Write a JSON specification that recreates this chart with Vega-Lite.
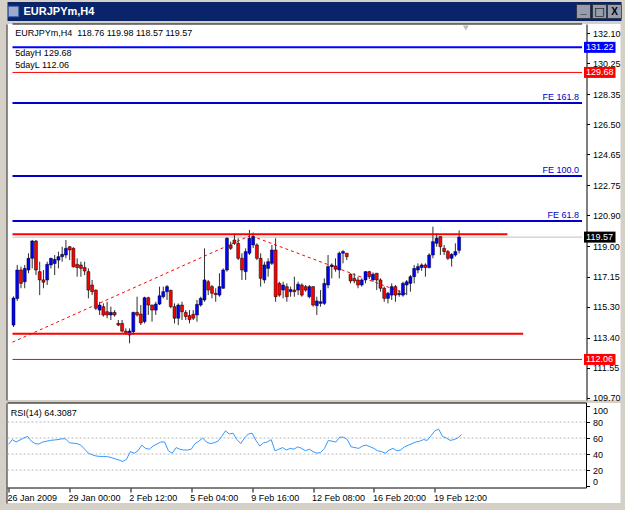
{
  "$schema": "https://vega.github.io/schema/vega-lite/v6.json",
  "background": "#D4D0C8",
  "padding": {"left": 5.5, "top": 2, "right": 4, "bottom": 7},
  "spacing": 3,
  "bounds": "flush",
  "config": {
    "view": {"stroke": null},
    "axis": {"labelFont": "Liberation Sans", "labelFontSize": 9, "labelColor": "#000000", "tickColor": "#000000", "domainColor": "#000000", "grid": false, "title": null},
    "text": {"font": "Liberation Sans", "fontSize": 9}
  },
  "datasets": {
    "candles": [
      {"i":0,"o":114.17,"h":115.93,"l":114.05,"c":115.83,"rsi":52},
      {"i":1,"o":115.80,"h":117.86,"l":115.65,"c":117.55,"rsi":58},
      {"i":2,"o":117.55,"h":117.76,"l":116.43,"c":116.73,"rsi":55},
      {"i":3,"o":116.83,"h":117.86,"l":116.43,"c":117.65,"rsi":57.5},
      {"i":4,"o":117.55,"h":118.58,"l":117.35,"c":118.27,"rsi":60},
      {"i":5,"o":118.27,"h":119.40,"l":117.65,"c":119.33,"rsi":62},
      {"i":6,"o":119.33,"h":119.39,"l":117.24,"c":117.55,"rsi":56},
      {"i":7,"o":117.45,"h":118.06,"l":116.01,"c":116.94,"rsi":53},
      {"i":8,"o":116.94,"h":117.55,"l":116.43,"c":116.80,"rsi":52.5},
      {"i":9,"o":116.94,"h":118.06,"l":116.63,"c":117.90,"rsi":55},
      {"i":10,"o":117.86,"h":118.30,"l":117.65,"c":118.27,"rsi":56},
      {"i":11,"o":117.95,"h":118.47,"l":117.24,"c":118.20,"rsi":57},
      {"i":12,"o":118.16,"h":118.68,"l":117.65,"c":118.37,"rsi":57.5},
      {"i":13,"o":118.37,"h":118.98,"l":118.06,"c":118.51,"rsi":58},
      {"i":14,"o":118.47,"h":119.39,"l":118.27,"c":118.88,"rsi":59},
      {"i":15,"o":118.98,"h":119.02,"l":118.16,"c":118.78,"rsi":59},
      {"i":16,"o":118.88,"h":118.95,"l":117.70,"c":117.75,"rsi":54},
      {"i":17,"o":117.90,"h":118.27,"l":117.14,"c":117.70,"rsi":53.5},
      {"i":18,"o":117.86,"h":118.06,"l":117.14,"c":117.65,"rsi":53},
      {"i":19,"o":117.70,"h":118.06,"l":117.24,"c":117.49,"rsi":51},
      {"i":20,"o":117.45,"h":117.65,"l":115.81,"c":116.32,"rsi":46},
      {"i":21,"o":116.63,"h":116.94,"l":116.01,"c":116.22,"rsi":41},
      {"i":22,"o":116.32,"h":116.35,"l":115.09,"c":115.20,"rsi":39},
      {"i":23,"o":115.09,"h":115.60,"l":114.79,"c":115.40,"rsi":37.5},
      {"i":24,"o":115.30,"h":115.50,"l":114.69,"c":114.79,"rsi":37},
      {"i":25,"o":114.99,"h":115.60,"l":114.59,"c":114.79,"rsi":36.8},
      {"i":26,"o":114.79,"h":115.30,"l":114.48,"c":114.95,"rsi":36.7},
      {"i":27,"o":114.95,"h":115.09,"l":114.69,"c":114.79,"rsi":35.5},
      {"i":28,"o":114.27,"h":114.48,"l":114.10,"c":114.17,"rsi":34},
      {"i":29,"o":114.27,"h":114.48,"l":113.72,"c":113.80,"rsi":32.5},
      {"i":30,"o":113.80,"h":113.97,"l":113.56,"c":113.66,"rsi":30.6},
      {"i":31,"o":113.56,"h":113.97,"l":113.05,"c":113.80,"rsi":33.4},
      {"i":32,"o":113.76,"h":114.99,"l":113.56,"c":114.95,"rsi":43},
      {"i":33,"o":114.95,"h":115.91,"l":114.69,"c":114.79,"rsi":41},
      {"i":34,"o":114.85,"h":115.40,"l":114.17,"c":114.30,"rsi":44},
      {"i":35,"o":114.38,"h":115.91,"l":114.27,"c":115.85,"rsi":51},
      {"i":36,"o":115.85,"h":115.91,"l":114.79,"c":115.40,"rsi":47},
      {"i":37,"o":115.40,"h":115.42,"l":114.38,"c":115.09,"rsi":46},
      {"i":38,"o":115.09,"h":115.60,"l":114.79,"c":115.46,"rsi":50},
      {"i":39,"o":115.46,"h":116.53,"l":115.40,"c":115.97,"rsi":52.5},
      {"i":40,"o":115.91,"h":116.53,"l":115.81,"c":116.22,"rsi":55},
      {"i":41,"o":116.22,"h":116.63,"l":115.71,"c":116.53,"rsi":55},
      {"i":42,"o":116.30,"h":116.35,"l":115.20,"c":115.30,"rsi":44},
      {"i":43,"o":115.30,"h":115.50,"l":114.27,"c":114.59,"rsi":41},
      {"i":44,"o":114.59,"h":115.50,"l":114.17,"c":115.40,"rsi":48},
      {"i":45,"o":115.40,"h":115.60,"l":114.48,"c":114.99,"rsi":46},
      {"i":46,"o":114.95,"h":115.09,"l":114.48,"c":114.69,"rsi":45},
      {"i":47,"o":114.75,"h":115.09,"l":114.27,"c":114.50,"rsi":45},
      {"i":48,"o":114.83,"h":115.09,"l":114.48,"c":114.59,"rsi":46},
      {"i":49,"o":114.79,"h":115.71,"l":114.38,"c":115.44,"rsi":53},
      {"i":50,"o":115.40,"h":115.91,"l":115.30,"c":115.81,"rsi":56},
      {"i":51,"o":115.71,"h":118.88,"l":115.60,"c":116.94,"rsi":60},
      {"i":52,"o":116.83,"h":116.94,"l":116.01,"c":116.32,"rsi":55},
      {"i":53,"o":116.53,"h":116.63,"l":115.81,"c":116.12,"rsi":53},
      {"i":54,"o":116.12,"h":116.43,"l":115.60,"c":116.04,"rsi":54},
      {"i":55,"o":116.01,"h":117.35,"l":115.91,"c":116.53,"rsi":56},
      {"i":56,"o":116.43,"h":117.65,"l":116.40,"c":117.55,"rsi":62},
      {"i":57,"o":117.55,"h":119.55,"l":117.45,"c":119.50,"rsi":69},
      {"i":58,"o":119.09,"h":119.29,"l":118.78,"c":118.88,"rsi":65},
      {"i":59,"o":119.39,"h":119.80,"l":119.09,"c":119.19,"rsi":66},
      {"i":60,"o":119.19,"h":119.50,"l":118.16,"c":118.27,"rsi":58},
      {"i":61,"o":118.27,"h":118.58,"l":116.94,"c":117.55,"rsi":53},
      {"i":62,"o":117.45,"h":118.88,"l":116.94,"c":118.68,"rsi":60},
      {"i":63,"o":118.58,"h":120.01,"l":118.47,"c":119.50,"rsi":65},
      {"i":64,"o":119.09,"h":119.85,"l":118.90,"c":119.60,"rsi":66},
      {"i":65,"o":119.09,"h":119.19,"l":118.16,"c":118.27,"rsi":57},
      {"i":66,"o":118.27,"h":118.58,"l":116.53,"c":117.04,"rsi":50},
      {"i":67,"o":116.94,"h":118.06,"l":116.73,"c":117.86,"rsi":54},
      {"i":68,"o":117.65,"h":118.27,"l":117.14,"c":118.06,"rsi":55},
      {"i":69,"o":117.96,"h":119.09,"l":117.86,"c":118.78,"rsi":58},
      {"i":70,"o":118.78,"h":119.50,"l":115.60,"c":115.91,"rsi":44},
      {"i":71,"o":116.73,"h":116.83,"l":115.91,"c":116.01,"rsi":46},
      {"i":72,"o":116.32,"h":116.83,"l":115.81,"c":116.63,"rsi":48},
      {"i":73,"o":116.53,"h":116.73,"l":115.60,"c":115.91,"rsi":45},
      {"i":74,"o":116.22,"h":116.53,"l":115.91,"c":116.35,"rsi":47},
      {"i":75,"o":116.32,"h":117.14,"l":115.91,"c":116.22,"rsi":46},
      {"i":76,"o":116.32,"h":116.83,"l":116.01,"c":116.68,"rsi":49},
      {"i":77,"o":116.63,"h":116.73,"l":115.91,"c":116.01,"rsi":47},
      {"i":78,"o":116.53,"h":116.63,"l":116.22,"c":116.32,"rsi":44},
      {"i":79,"o":115.91,"h":116.63,"l":115.81,"c":116.53,"rsi":46},
      {"i":80,"o":116.53,"h":116.55,"l":115.30,"c":115.40,"rsi":43},
      {"i":81,"o":115.36,"h":115.91,"l":114.79,"c":115.65,"rsi":41},
      {"i":82,"o":115.50,"h":116.32,"l":115.30,"c":115.60,"rsi":42},
      {"i":83,"o":115.50,"h":117.04,"l":115.40,"c":116.73,"rsi":47},
      {"i":84,"o":116.63,"h":118.47,"l":116.43,"c":117.76,"rsi":57},
      {"i":85,"o":117.76,"h":117.96,"l":117.04,"c":117.86,"rsi":56},
      {"i":86,"o":117.80,"h":118.27,"l":117.45,"c":117.60,"rsi":55},
      {"i":87,"o":117.55,"h":118.68,"l":117.04,"c":118.58,"rsi":61},
      {"i":88,"o":118.58,"h":118.78,"l":117.96,"c":118.68,"rsi":61},
      {"i":89,"o":118.58,"h":118.60,"l":118.16,"c":118.37,"rsi":58},
      {"i":90,"o":117.29,"h":117.35,"l":116.73,"c":116.88,"rsi":49},
      {"i":91,"o":117.04,"h":117.35,"l":116.73,"c":116.88,"rsi":48},
      {"i":92,"o":116.94,"h":117.14,"l":116.43,"c":116.63,"rsi":47},
      {"i":93,"o":116.63,"h":117.04,"l":116.53,"c":116.94,"rsi":50},
      {"i":94,"o":116.94,"h":117.48,"l":116.73,"c":117.45,"rsi":51},
      {"i":95,"o":117.45,"h":117.50,"l":117.00,"c":117.14,"rsi":49},
      {"i":96,"o":116.94,"h":117.40,"l":116.83,"c":117.29,"rsi":47},
      {"i":97,"o":117.35,"h":117.37,"l":116.32,"c":116.94,"rsi":44},
      {"i":98,"o":116.94,"h":117.04,"l":116.22,"c":116.43,"rsi":43},
      {"i":99,"o":116.43,"h":116.53,"l":115.60,"c":115.81,"rsi":41},
      {"i":100,"o":115.81,"h":116.22,"l":115.50,"c":116.12,"rsi":45},
      {"i":101,"o":116.01,"h":116.73,"l":115.71,"c":116.53,"rsi":47},
      {"i":102,"o":116.53,"h":116.63,"l":115.60,"c":116.01,"rsi":44},
      {"i":103,"o":116.04,"h":116.32,"l":115.91,"c":116.12,"rsi":45},
      {"i":104,"o":116.01,"h":116.83,"l":115.91,"c":116.73,"rsi":49},
      {"i":105,"o":116.63,"h":116.94,"l":116.01,"c":116.83,"rsi":51},
      {"i":106,"o":116.73,"h":117.24,"l":116.22,"c":117.14,"rsi":53},
      {"i":107,"o":117.14,"h":117.86,"l":116.73,"c":117.65,"rsi":55},
      {"i":108,"o":117.55,"h":117.96,"l":117.35,"c":117.76,"rsi":56},
      {"i":109,"o":117.70,"h":117.96,"l":117.50,"c":117.86,"rsi":58},
      {"i":110,"o":117.86,"h":117.96,"l":117.14,"c":117.70,"rsi":57},
      {"i":111,"o":117.70,"h":118.58,"l":117.65,"c":118.47,"rsi":63},
      {"i":112,"o":118.47,"h":120.21,"l":118.27,"c":119.29,"rsi":69},
      {"i":113,"o":119.19,"h":119.80,"l":118.98,"c":119.50,"rsi":71},
      {"i":114,"o":119.60,"h":119.62,"l":118.47,"c":118.98,"rsi":62},
      {"i":115,"o":118.88,"h":119.09,"l":118.47,"c":118.68,"rsi":60},
      {"i":116,"o":118.68,"h":118.78,"l":118.16,"c":118.27,"rsi":57},
      {"i":117,"o":118.27,"h":118.58,"l":117.76,"c":118.51,"rsi":58},
      {"i":118,"o":118.47,"h":119.19,"l":118.37,"c":118.68,"rsi":60},
      {"i":119,"o":118.76,"h":119.98,"l":118.57,"c":119.57,"rsi":64.3087}
    ],
    "levels": [
      {"name": "upper_blue", "price": 131.22},
      {"name": "5dayH", "price": 129.68},
      {"name": "FE 161.8", "price": 127.80},
      {"name": "FE 100.0", "price": 123.32},
      {"name": "FE 61.8", "price": 120.56},
      {"name": "bid", "price": 119.57},
      {"name": "5dayL", "price": 112.06}
    ],
    "segments": [
      {"name": "resistance", "price": 119.75, "start": -0.263, "end": 131.9},
      {"name": "support", "price": 113.64, "start": -0.263, "end": 136.1}
    ],
    "trend": [
      {"seg": "up", "i": -0.263, "p": 113.12},
      {"seg": "up", "i": 63.0, "p": 119.64},
      {"seg": "down", "i": 63.6, "p": 119.64},
      {"seg": "down", "i": 105.6, "p": 116.02}
    ],
    "rsilevels": [{"level": 20}, {"level": 40}, {"level": 60}, {"level": 80}],
    "one": [{}]
  },
  "vconcat": [
    {
      "width": 614,
      "height": 19,
      "view": {"fill": "#0A246A", "stroke": null},
      "data": {"name": "one"},
      "layer": [
        {"mark": {"type": "point", "shape": "square", "filled": true, "size": 110, "fill": "#DCE6F4", "stroke": "#4A78C0", "strokeWidth": 1},
         "encoding": {"x": {"datum": 6, "type": "quantitative", "scale": {"domain": [0, 614], "nice": false, "zero": false}, "axis": null}}},
        {"mark": {"type": "text", "text": "EURJPYm,H4", "color": "#FFFFFF", "fontWeight": "bold", "fontSize": 11, "align": "left", "baseline": "middle"},
         "encoding": {"x": {"datum": 16, "type": "quantitative", "axis": null}}},
        {"mark": {"type": "point", "shape": "square", "filled": true, "size": 196, "fill": "#D4D0C8", "stroke": "#404040", "strokeWidth": 1},
         "encoding": {"x": {"datum": 576, "type": "quantitative", "axis": null}}},
        {"mark": {"type": "point", "shape": "square", "filled": true, "size": 196, "fill": "#D4D0C8", "stroke": "#404040", "strokeWidth": 1},
         "encoding": {"x": {"datum": 592, "type": "quantitative", "axis": null}}},
        {"mark": {"type": "point", "shape": "square", "filled": true, "size": 196, "fill": "#D4D0C8", "stroke": "#404040", "strokeWidth": 1},
         "encoding": {"x": {"datum": 607, "type": "quantitative", "axis": null}}},
        {"mark": {"type": "text", "text": "_", "color": "#000000", "fontWeight": "bold", "fontSize": 11, "align": "center", "baseline": "middle", "dy": -2},
         "encoding": {"x": {"datum": 576, "type": "quantitative", "axis": null}}},
        {"mark": {"type": "text", "text": "□", "font": "DejaVu Sans", "color": "#000000", "fontWeight": "bold", "fontSize": 11, "align": "center", "baseline": "middle"},
         "encoding": {"x": {"datum": 592, "type": "quantitative", "axis": null}}},
        {"mark": {"type": "text", "text": "X", "color": "#000000", "fontWeight": "bold", "fontSize": 10, "align": "center", "baseline": "middle"},
         "encoding": {"x": {"datum": 607, "type": "quantitative", "axis": null}}}
      ]
    },
    {
      "width": 613,
      "height": 376,
      "view": {"fill": "#FFFFFF", "stroke": null},
      "layer": [
        {"data": {"name": "one"},
         "mark": {"type": "rule", "color": "#000000", "strokeWidth": 1},
         "encoding": {
           "x": {"datum": -0.263, "type": "quantitative", "scale": {"domain": [-0.263, 160.76], "nice": false, "zero": false}, "axis": null},
           "x2": {"datum": 151.83},
           "y": {"datum": 132.653, "type": "quantitative", "scale": {"domain": [109.57, 132.653], "nice": false, "zero": false},
                 "axis": {"orient": "left", "offset": 1, "values": [120], "labels": false, "ticks": false, "domain": true, "domainColor": "#303030"}}
         }},
        {"data": {"name": "levels"},
         "transform": [{"filter": "datum.name == 'upper_blue'"}],
         "mark": {"type": "rule", "color": "#0000FF", "strokeWidth": 2},
         "encoding": {"x": {"datum": -0.263, "type": "quantitative", "axis": null}, "x2": {"datum": 151.83}, "y": {"field": "price", "type": "quantitative", "axis": null}}},
        {"data": {"name": "levels"},
         "transform": [{"filter": "datum.name == '5dayH' || datum.name == '5dayL'"}],
         "mark": {"type": "rule", "color": "#FF0000", "strokeWidth": 1},
         "encoding": {"x": {"datum": -0.263, "type": "quantitative", "axis": null}, "x2": {"datum": 151.83}, "y": {"field": "price", "type": "quantitative", "axis": null}}},
        {"data": {"name": "levels"},
         "transform": [{"filter": "indexof(['FE 161.8', 'FE 100.0', 'FE 61.8'], datum.name) >= 0"}],
         "mark": {"type": "rule", "color": "#0000C8", "strokeWidth": 2},
         "encoding": {"x": {"datum": -0.263, "type": "quantitative", "axis": null}, "x2": {"datum": 151.83}, "y": {"field": "price", "type": "quantitative", "axis": null}}},
        {"data": {"name": "levels"},
         "transform": [{"filter": "datum.name == 'bid'"}],
         "mark": {"type": "rule", "color": "#C0C0C0", "strokeWidth": 1},
         "encoding": {"x": {"datum": -0.263, "type": "quantitative", "axis": null}, "x2": {"datum": 151.83}, "y": {"field": "price", "type": "quantitative", "axis": null}}},
        {"data": {"name": "trend"},
         "mark": {"type": "line", "color": "#FF0000", "strokeWidth": 1, "strokeDash": [3, 3]},
         "encoding": {"x": {"field": "i", "type": "quantitative", "axis": null}, "y": {"field": "p", "type": "quantitative", "axis": null}, "detail": {"field": "seg"}}},
        {"data": {"name": "candles"},
         "mark": {"type": "rule", "color": "#303030", "strokeWidth": 1},
         "encoding": {
           "x": {"field": "i", "type": "quantitative", "axis": null},
           "y": {"field": "l", "type": "quantitative",
                 "axis": {"orient": "right", "offset": -34, "values": [132.10, 130.25, 128.35, 126.50, 124.65, 122.75, 120.90, 119.00, 117.15, 115.30, 113.40, 111.55, 109.70], "format": ".2f", "tickSize": 3, "labelPadding": 3, "domain": true, "labelBaseline": "middle", "labelFlush": false, "labelOverlap": false, "labelBound": false, "zindex": 0}},
           "y2": {"field": "h"}
         }},
        {"data": {"name": "candles"},
         "mark": {"type": "bar", "width": 3, "stroke": "#000000", "strokeWidth": 0.5},
         "encoding": {
           "x": {"field": "i", "type": "quantitative", "axis": null},
           "y": {"field": "o", "type": "quantitative", "axis": null},
           "y2": {"field": "c"},
           "color": {"condition": {"test": "datum.c >= datum.o", "value": "#0000FF"}, "value": "#FF0000"}
         }},
        {"data": {"name": "segments"},
         "mark": {"type": "rule", "color": "#FF0000", "strokeWidth": 2},
         "encoding": {"x": {"field": "start", "type": "quantitative", "axis": null}, "x2": {"field": "end"}, "y": {"field": "price", "type": "quantitative", "axis": null}}},
        {"data": {"name": "levels"},
         "transform": [{"filter": "indexof(['FE 161.8', 'FE 100.0', 'FE 61.8'], datum.name) >= 0"}],
         "mark": {"type": "text", "color": "#0000C8", "align": "right", "baseline": "bottom", "dy": -1},
         "encoding": {"x": {"datum": 151.0, "type": "quantitative", "axis": null}, "y": {"field": "price", "type": "quantitative", "axis": null}, "text": {"field": "name"}}},
        {"data": {"name": "levels"},
         "transform": [{"filter": "indexof(['upper_blue', '5dayH', 'bid', '5dayL'], datum.name) >= 0"}],
         "mark": {"type": "rule", "strokeWidth": 11, "strokeCap": "butt"},
         "encoding": {
           "x": {"datum": 152.35, "type": "quantitative", "axis": null}, "x2": {"datum": 160.76},
           "y": {"field": "price", "type": "quantitative", "axis": null},
           "color": {"condition": [{"test": "datum.name == 'upper_blue'", "value": "#0000FF"}, {"test": "datum.name == 'bid'", "value": "#000000"}], "value": "#FF0000"}
         }},
        {"data": {"name": "levels"},
         "transform": [{"filter": "indexof(['upper_blue', '5dayH', 'bid', '5dayL'], datum.name) >= 0"}],
         "mark": {"type": "text", "color": "#FFFFFF", "align": "left", "baseline": "middle"},
         "encoding": {"x": {"datum": 152.9, "type": "quantitative", "axis": null}, "y": {"field": "price", "type": "quantitative", "axis": null}, "text": {"field": "price", "type": "quantitative", "format": ".2f"}}},
        {"data": {"name": "one"},
         "mark": {"type": "text", "text": "EURJPYm,H4\u00a0 118.76 119.98 118.57 119.57", "align": "left", "baseline": "middle", "color": "#000000"},
         "encoding": {"x": {"datum": 0.5, "type": "quantitative", "axis": null}, "y": {"datum": 132.10, "type": "quantitative", "axis": null}}},
        {"data": {"name": "one"},
         "mark": {"type": "text", "text": "5dayH 129.68", "align": "left", "baseline": "middle", "color": "#000000"},
         "encoding": {"x": {"datum": 0.5, "type": "quantitative", "axis": null}, "y": {"datum": 130.87, "type": "quantitative", "axis": null}}},
        {"data": {"name": "one"},
         "mark": {"type": "text", "text": "5dayL 112.06", "align": "left", "baseline": "middle", "color": "#000000"},
         "encoding": {"x": {"datum": 0.5, "type": "quantitative", "axis": null}, "y": {"datum": 130.14, "type": "quantitative", "axis": null}}},
        {"data": {"name": "one"},
         "mark": {"type": "point", "shape": "triangle-down", "filled": true, "size": 35, "fill": "#A0A0A0", "stroke": null},
         "encoding": {"x": {"datum": 120.8, "type": "quantitative", "axis": null}, "y": {"datum": 132.41, "type": "quantitative", "axis": null}}}
      ]
    },
    {
      "width": 613,
      "height": 100,
      "view": {"fill": "#FFFFFF", "stroke": null},
      "layer": [
        {"data": {"name": "one"},
         "mark": {"type": "rule", "color": "#000000", "strokeWidth": 1},
         "encoding": {
           "x": {"datum": -0.263, "type": "quantitative", "scale": {"domain": [-0.263, 160.76], "nice": false, "zero": false},
                 "axis": {"orient": "bottom", "offset": -15, "values": [0, 16, 32, 48, 64, 80, 96, 112], "labelExpr": "datum.value == 0 ? '26 Jan 2009' : datum.value == 16 ? '29 Jan 00:00' : datum.value == 32 ? '2 Feb 12:00' : datum.value == 48 ? '5 Feb 04:00' : datum.value == 64 ? '9 Feb 16:00' : datum.value == 80 ? '12 Feb 08:00' : datum.value == 96 ? '16 Feb 20:00' : '19 Feb 12:00'", "domain": false, "ticks": true, "tickSize": 4, "labelAlign": "left", "labelBaseline": "top", "labelOffset": -1.5, "labelPadding": 1, "labelFlush": false, "labelOverlap": false, "labelBound": false}},
           "x2": {"datum": 151.83},
           "y": {"datum": 103.75, "type": "quantitative", "scale": {"domain": [-21.25, 103.75], "nice": false, "zero": false},
                 "axis": {"orient": "left", "offset": 1, "values": [50], "labels": false, "ticks": false, "domain": true, "domainColor": "#303030"}}
         }},
        {"data": {"name": "one"},
         "mark": {"type": "rule", "color": "#000000", "strokeWidth": 1},
         "encoding": {"x": {"datum": -0.263, "type": "quantitative"}, "x2": {"datum": 151.83}, "y": {"datum": -2.5, "type": "quantitative", "axis": null}}},
        {"data": {"name": "one"},
         "mark": {"type": "rule", "color": "#000000", "strokeWidth": 1},
         "encoding": {"x": {"datum": 151.83, "type": "quantitative"}, "y": {"datum": 103.75, "type": "quantitative", "axis": null}, "y2": {"datum": -2.5}}},
        {"data": {"name": "rsilevels"},
         "mark": {"type": "rule", "color": "#B8B8B8", "strokeWidth": 1, "strokeDash": [2, 2]},
         "encoding": {"x": {"datum": -0.263, "type": "quantitative"}, "x2": {"datum": 151.83}, "y": {"field": "level", "type": "quantitative", "axis": null}}},
        {"data": {"name": "candles"},
         "mark": {"type": "line", "color": "#3399FF", "strokeWidth": 1},
         "encoding": {
           "x": {"field": "i", "type": "quantitative"},
           "y": {"field": "rsi", "type": "quantitative",
                 "axis": {"orient": "right", "offset": -34, "values": [0, 20, 40, 60, 80, 100], "domain": false, "tickSize": 3, "labelPadding": 3,
                          "labelBaseline": {"condition": [{"test": "datum.value == 100", "value": "top"}, {"test": "datum.value == 0", "value": "bottom"}], "value": "middle"},
                          "labelFlush": false, "labelOverlap": false, "labelBound": false}}
         }},
        {"data": {"name": "one"},
         "mark": {"type": "text", "text": "RSI(14) 64.3087", "align": "left", "baseline": "middle", "color": "#000000"},
         "encoding": {"x": {"datum": 0.6, "type": "quantitative"}, "y": {"datum": 91.25, "type": "quantitative", "axis": null}}}
      ]
    }
  ]
}
